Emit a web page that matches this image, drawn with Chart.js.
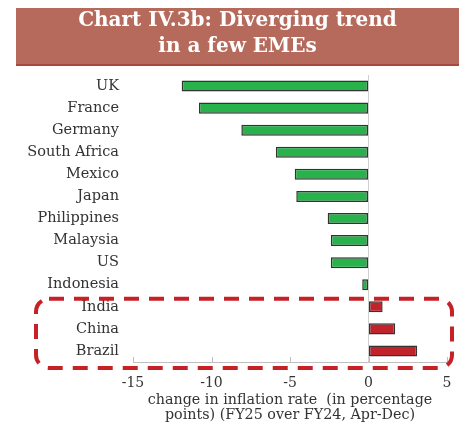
<!DOCTYPE html>
<html>
<head>
<meta charset="utf-8">
<script src="https://cdn.jsdelivr.net/npm/chart.js@4"></script>
<style>
  body { margin:0; background:#fff; width:459px; height:425px; overflow:hidden; position:relative; }
  #banner { position:absolute; left:16px; top:8px; width:443px; height:56px; background:#b56a5c;
    border-bottom:2px solid #a8483f; color:#fff; font-family:"DejaVu Serif",serif; font-weight:bold;
    font-size:20px; line-height:26px; text-align:center; }
  #banner div { position:relative; top:-2px; }
  #wrap { position:absolute; left:0; top:0; width:459px; height:425px; }
</style>
</head>
<body>
<div id="wrap"><canvas id="myChart" width="459" height="425"></canvas></div>
<div id="banner"><div>Chart IV.3b: Diverging trend<br>in a few EMEs</div></div>
<script>
var countries = ["UK","France","Germany","South Africa","Mexico","Japan","Philippines","Malaysia","US","Indonesia","India","China","Brazil"]
var change = [-11.9, -10.8, -8.1, -5.9, -4.7, -4.6, -2.6, -2.4, -2.4, -0.4, 0.9, 1.7, 3.1]
var xTicks = [-15, -10, -5, 0, 5]
var highlighted = ["India","China","Brazil"]

var barColors = countries.map(function(c){
	return highlighted.indexOf(c) >= 0 ? "#c1232b" : "#27b24c"
})

// dashed box round the highlighted countries + small tick marks on the x axis
var extras = {
	id: "extras",
	afterDraw: function(chart){
		var ctx = chart.ctx
		var x = chart.scales.x
		var y = chart.scales.y
		// tick marks pointing up
		ctx.save()
		ctx.strokeStyle = "#bfbfbf"
		ctx.lineWidth = 1
		xTicks.forEach(function(v){
			var px = Math.round(x.getPixelForValue(v)) + 0.5
			ctx.beginPath()
			ctx.moveTo(px, chart.chartArea.bottom)
			ctx.lineTo(px, chart.chartArea.bottom - 5)
			ctx.stroke()
		})
		ctx.restore()

		var first = countries.indexOf(highlighted[0])
		var last = countries.indexOf(highlighted[highlighted.length - 1])
		var top = y.getPixelForValue(first) - 8
		var bottom = y.getPixelForValue(last) + 17
		var left = 36
		var right = x.getPixelForValue(5) + 5
		var r = 13
		ctx.save()
		ctx.strokeStyle = "#c62127"
		ctx.lineWidth = 4
		ctx.setLineDash([15, 10])
		ctx.beginPath()
		ctx.moveTo(left + r, top)
		ctx.lineTo(right - r, top)
		ctx.arcTo(right, top, right, top + r, r)
		ctx.lineTo(right, bottom - r)
		ctx.arcTo(right, bottom, right - r, bottom, r)
		ctx.lineTo(left + r, bottom)
		ctx.arcTo(left, bottom, left, bottom - r, r)
		ctx.lineTo(left, top + r)
		ctx.arcTo(left, top, left + r, top, r)
		ctx.stroke()
		ctx.restore()
	}
}

var serif = "'DejaVu Serif', serif"

var chart = new Chart(document.getElementById("myChart"), {
	type: "bar",
	data: {
		labels: countries,
		datasets: [{
			data: change,
			backgroundColor: barColors,
			borderColor: "#333333",
			borderWidth: 1.5,
			borderSkipped: false,
			barPercentage: 0.5,
			categoryPercentage: 1
		}]
	},
	options: {
		indexAxis: "y",
		responsive: false,
		animation: false,
		layout: { padding: { top: 75, right: 12, bottom: 2, left: 0 } },
		plugins: { legend: { display: false }, tooltip: { enabled: false } },
		scales: {
			x: {
				min: -15,
				max: 5,
				afterBuildTicks: function(axis){
					axis.ticks = xTicks.map(function(v){ return { value: v } })
				},
				afterFit: function(axis){
					axis.height = 61
					axis.paddingRight = 0
					axis.paddingLeft = 0
				},
				border: { display: true, color: "#bfbfbf", width: 1 },
				grid: {
					drawTicks: false,
					color: function(c){ return c.tick && c.tick.value === 0 ? "#d0d0d0" : "rgba(0,0,0,0)" }
				},
				ticks: { padding: 13, color: "#333", font: { family: serif, size: 14 } },
				title: {
					display: true,
					text: ["change in inflation rate  (in percentage", "points) (FY25 over FY24, Apr-Dec)"],
					color: "#333",
					font: { family: serif, size: 14.3, lineHeight: 1.05 },
					padding: { top: 0, bottom: 0 }
				}
			},
			y: {
				afterFit: function(axis){ axis.width = 133 },
				border: { display: false },
				grid: { display: false, drawTicks: false },
				ticks: { padding: 14, color: "#333", font: { family: serif, size: 14.5 } }
			}
		}
	},
	plugins: [extras]
})
</script>
</body>
</html>
